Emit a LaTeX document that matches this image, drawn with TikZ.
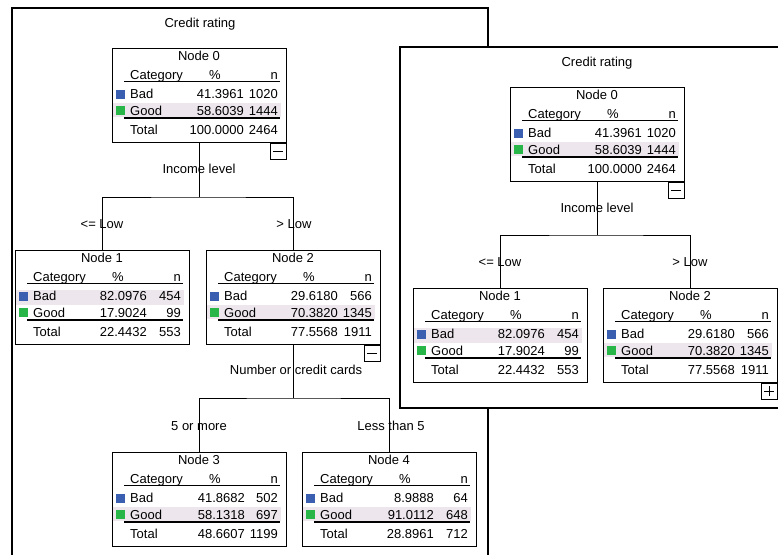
\documentclass[tikz,border=0pt]{standalone}
\usepackage{fontspec}
\setmainfont{Liberation Sans}
\usetikzlibrary{calc}
\definecolor{badblue}{RGB}{58,94,176}
\definecolor{goodgreen}{RGB}{40,182,72}
\definecolor{hlband}{RGB}{237,231,237}
\tikzset{
  tbox/.style={draw=black, line width=1pt, minimum width=174pt, minimum height=94pt, inner sep=0pt, fill=white},
  lbl/.style={inner sep=0pt, font=\fontsize{13}{15}\selectfont},
  txt/.style={lbl, anchor=base west},
  numr/.style={inner sep=0pt, anchor=base east, font=\fontsize{13}{15}\selectfont},
  hdr/.style={lbl, anchor=base},
  hdrr/.style={lbl, anchor=base east},
  rule/.style={draw=black, line width=1pt},
  conn/.style={draw=black, line width=1pt},
  panel/.style={draw=black, line width=1.1pt},
  tog/.style={draw=black, line width=1pt, minimum width=16pt, minimum height=16pt, inner sep=0pt, fill=white, anchor=north east},
}
% #1 name, #2 pct right edge, #3 baseline, #4 pct, #5 n
\newcommand\ctcells[5]{%
  \node[numr] (#1p) at (#2,#3) {#4};
  \node[numr] (#1n) at (166,#3) {#5};}
% #1 name #2 L #3 T #4 title #5 pct right #6 highlighted row #7 bad #8 good #9 total
\newcommand\ctnode[9]{%
  \node[tbox] (#1) at ({#2+87},{#3+47}) {};
  \begin{scope}[shift={(#2,#3)}]
    \ifnum#6=1\relax \fill[hlband] (1,39.5) rectangle (169,55);\else \fill[hlband] (1,55) rectangle (169,69);\fi
    \node[lbl] (#1-title) at (87,7.5) {#4};
    \node[txt] (#1-hcat) at (18,31.2) {Category};
    \node[hdr] (#1-hpct) at (103,31.2) {\%};
    \node[hdrr] (#1-hn) at (166,31.2) {n};
    \draw[rule] (12,33.5) -- (168,33.5);
    \fill[badblue] (4,41.5) rectangle (12.5,50.5);
    \node[txt] (#1-bad) at (18,50.7) {Bad};
    \ctcells{#1-bad}{#5}{50.7}#7
    \fill[goodgreen] (4,58) rectangle (12.5,67);
    \node[txt] (#1-good) at (18,67.2) {Good};
    \ctcells{#1-good}{#5}{67.2}#8
    \draw[rule, line width=1.7pt] (12,69.8) -- (168,69.8);
    \node[txt] (#1-total) at (18,86.2) {Total};
    \ctcells{#1-total}{#5}{86.2}#9
  \end{scope}}
\newcommand\ctminus[1]{%
  \node[tog] (#1-tog) at (#1.south east) {};
  \draw[line width=1pt] ([xshift=-5pt]#1-tog.center) -- ([xshift=5pt]#1-tog.center);}
\newcommand\ctplus[1]{%
  \node[tog] (#1-tog) at (#1.south east) {};
  \draw[line width=1pt] ([xshift=-5pt]#1-tog.center) -- ([xshift=5pt]#1-tog.center);
  \draw[line width=1pt] ([yshift=-5pt]#1-tog.center) -- ([yshift=5pt]#1-tog.center);}
\begin{document}
\begin{tikzpicture}[x=1pt,y=-1pt]
\useasboundingbox (0,0) rectangle (778,554);
\fill[white] (0,0) rectangle (778,554);
% ---------- left panel ----------
\draw[panel] (12,556) -- (12,8) -- (488,8) -- (488,556);
\node[lbl] (ltitle) at (200,24) {Credit rating};
\ctnode{n0}{112}{48}{Node 0}{132}{2}{{41.3961}{1020}}{{58.6039}{1444}}{{100.0000}{2464}}
\ctnode{n1}{15}{250}{Node 1}{132}{1}{{82.0976}{454}}{{17.9024}{99}}{{22.4432}{553}}
\ctnode{n2}{206}{250}{Node 2}{132}{2}{{29.6180}{566}}{{70.3820}{1345}}{{77.5568}{1911}}
\ctnode{n3}{112}{452}{Node 3}{133}{2}{{41.8682}{502}}{{58.1318}{697}}{{48.6607}{1199}}
\ctnode{n4}{302}{452}{Node 4}{132}{2}{{8.9888}{64}}{{91.0112}{648}}{{28.8961}{712}}
\ctminus{n0}
\ctminus{n2}
\coordinate (j0) at (199,197);
\draw[conn] (n0.south) -- (j0);
\draw[conn] (n1.north) |- (j0) -| (n2.north);
\node[lbl] (lsplit0) at (199,169) {Income level};
\node[lbl] (le1) at (102,224) {<= Low};
\node[lbl] (le2) at (294,224) {> Low};
\coordinate (j2) at (293,398);
\draw[conn] (n2.south) -- (j2);
\draw[conn] (n3.north) |- (j2) -| (n4.north);
\node[lbl] (lsplit2) at (296,370) {Number or credit cards};
\node[lbl] (le3) at (199,426) {5 or more};
\node[lbl] (le4) at (391,426) {Less than 5};
% ---------- right panel ----------
\fill[white] (400,47) rectangle (778,408);
\draw[panel] (780,47) -- (400,47) -- (400,408) -- (780,408);
\node[lbl] (rtitle) at (597,63) {Credit rating};
\ctnode{r0}{510}{87}{Node 0}{132}{2}{{41.3961}{1020}}{{58.6039}{1444}}{{100.0000}{2464}}
\ctnode{r1}{413}{288}{Node 1}{132}{1}{{82.0976}{454}}{{17.9024}{99}}{{22.4432}{553}}
\ctnode{r2}{603}{288}{Node 2}{132}{2}{{29.6180}{566}}{{70.3820}{1345}}{{77.5568}{1911}}
\ctminus{r0}
\ctplus{r2}
\coordinate (rj) at (597,235);
\draw[conn] (r0.south) -- (rj);
\draw[conn] (r1.north) |- (rj) -| (r2.north);
\node[lbl] (rsplit0) at (597,208) {Income level};
\node[lbl] (re1) at (500,262) {<= Low};
\node[lbl] (re2) at (690,262) {> Low};
\end{tikzpicture}
\end{document}
